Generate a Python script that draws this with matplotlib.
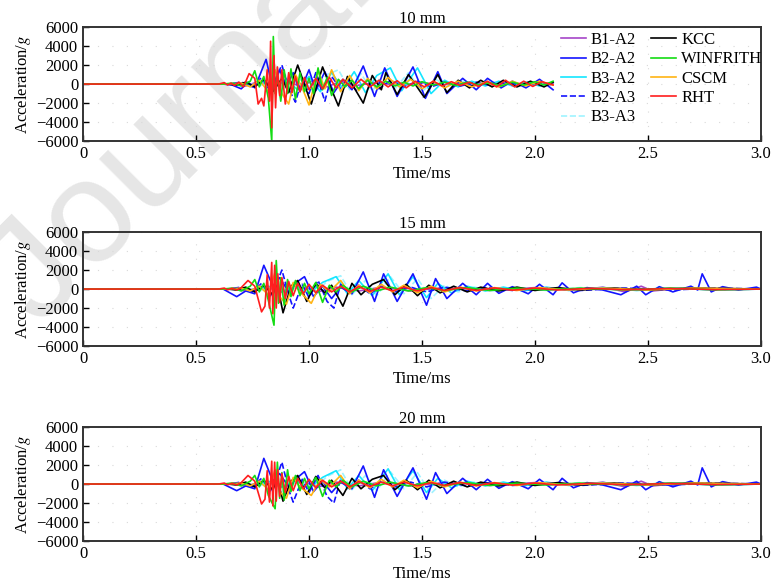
import numpy as np
import matplotlib
matplotlib.use("Agg")
import matplotlib.pyplot as plt

plt.rcParams['font.family'] = ['Liberation Serif', 'DejaVu Serif']
plt.rcParams['mathtext.fontset'] = 'stix'
plt.rcParams['font.size'] = 12

titles = ['10 mm', '15 mm', '20 mm']
labels = ['B1-A2', 'B2-A2', 'B3-A2', 'B2-A3', 'B3-A3', 'KCC', 'WINFRITH', 'CSCM', 'RHT']
xticks = [0, 0.5, 1.0, 1.5, 2.0, 2.5, 3.0]
xtick_labels = ['0', '0.5', '1.0', '1.5', '2.0', '2.5', '3.0']
yticks = [-6000, -4000, -2000, 0, 2000, 4000, 6000]

# ---- 10 mm : (time ms, acceleration g) ----
b1a2_10 = [(0, 0), (0.66, 0), (0.72, -200), (0.78, 300), (0.84, -400), (0.90, 500), (0.96, -300),
           (1.02, 400), (1.08, -300), (1.14, 300), (1.20, -200), (1.30, 200), (1.40, -200), (1.50, 150),
           (1.60, -150), (1.70, 150), (1.80, -100), (1.90, 100), (2.00, -100), (2.08, 100)]
b2a2_10 = [(0, 0), (0.62, 0), (0.66, -100), (0.70, -500), (0.73, 200), (0.76, -400), (0.81, 2600),
           (0.84, -500), (0.87, 1500), (0.90, -200), (0.93, 1200), (0.96, -800), (1.00, 1500),
           (1.03, -700), (1.07, 1300), (1.11, -900), (1.15, 500), (1.19, -600), (1.24, 1900),
           (1.29, -1300), (1.335, 1700), (1.39, -1300), (1.46, 1800), (1.515, -1500), (1.57, 1300),
           (1.61, -1000), (1.68, 600), (1.74, -600), (1.79, 600), (1.85, -400), (1.90, 300),
           (1.96, -400), (2.02, 500), (2.08, -600)]
b3a2_10 = [(0, 0), (0.64, 0), (0.70, 100), (0.75, -200), (0.80, 300), (0.85, -300), (0.90, 400),
           (0.95, -600), (1.00, 800), (1.05, -800), (1.10, 1200), (1.15, -500), (1.20, 1300),
           (1.25, -900), (1.30, 900), (1.36, 1700), (1.41, -700), (1.48, 1700), (1.54, -1000),
           (1.60, 400), (1.66, -300), (1.72, 300), (1.78, -200), (1.84, 300), (1.90, -200),
           (1.96, 200), (2.02, -200), (2.08, 200)]
b2a3_10 = [(0, 0), (0.64, 0), (0.70, 200), (0.75, -300), (0.79, 700), (0.83, -800), (0.86, 1000),
           (0.88, 2000), (0.91, -500), (0.94, -1900), (0.97, 600), (1.00, -1000), (1.03, 1200),
           (1.07, -1800), (1.10, 800), (1.14, -500), (1.17, 500), (1.21, -700), (1.26, 500),
           (1.31, -500), (1.36, 400), (1.42, -300), (1.48, 300), (1.54, -300), (1.60, 200),
           (1.67, -200), (1.74, 200), (1.81, -200), (1.88, 150), (1.95, -150), (2.02, 150), (2.08, -100)]
b3a3_10 = [(0, 0), (0.66, 0), (0.72, 100), (0.78, -200), (0.84, 300), (0.90, -400), (0.96, 500),
           (1.02, -600), (1.08, 1000), (1.13, 1500), (1.18, -600), (1.23, 1100), (1.28, -800),
           (1.33, 1300), (1.38, -500), (1.44, 1200), (1.50, -800), (1.56, 500), (1.62, -300),
           (1.68, 300), (1.75, -200), (1.82, 200), (1.90, -150), (1.98, 150), (2.08, -100)]
kcc_10 = [(0, 0), (0.64, 0), (0.68, -100), (0.72, 200), (0.76, -300), (0.80, 500), (0.84, -800),
          (0.88, 600), (0.91, -900), (0.95, 2000), (1.01, -2100), (1.06, 1800), (1.10, -600),
          (1.13, -2300), (1.17, 800), (1.20, -400), (1.24, -2000), (1.28, 900), (1.32, -600),
          (1.34, 1200), (1.39, -1100), (1.44, 1000), (1.51, -1400), (1.57, 1000), (1.61, -900),
          (1.66, 400), (1.71, -400), (1.76, 400), (1.81, -300), (1.86, 400), (1.92, -300),
          (1.98, 300), (2.04, -300), (2.08, 200)]
win_10 = [(0, 0), (0.62, 0), (0.66, 100), (0.70, -200), (0.74, 300), (0.76, 1400), (0.78, -300),
          (0.80, 800), (0.82, -1500), (0.835, -6000), (0.842, 5000), (0.85, -1000), (0.86, 800),
          (0.875, -1800), (0.89, 1500), (0.905, -1000), (0.92, 1600), (0.94, -1600), (0.96, 1200),
          (0.98, -800), (1.00, 600), (1.02, -1000), (1.04, 1700), (1.06, -600), (1.08, 700),
          (1.10, -1200), (1.13, 500), (1.16, -300), (1.19, 400), (1.22, -500), (1.26, 400),
          (1.30, -300), (1.34, 300), (1.38, -200), (1.42, 200), (1.46, -200), (1.50, 250),
          (1.55, -100), (1.60, 200), (1.65, -150), (1.70, 200), (1.75, -100), (1.80, 150),
          (1.85, -200), (1.90, 200), (1.95, -100), (2.00, 250), (2.04, -100), (2.08, 300)]
cscm_10 = [(0, 0), (0.64, 0), (0.70, 100), (0.74, -300), (0.78, 400), (0.82, -800), (0.85, 1500),
           (0.88, -1000), (0.91, -2100), (0.94, 1000), (0.97, -400), (1.00, -2200), (1.04, 1400),
           (1.07, -500), (1.10, 1500), (1.14, -800), (1.18, 900), (1.22, -700), (1.26, 600),
           (1.30, -500), (1.35, 700), (1.40, -300), (1.45, 500), (1.50, -500), (1.55, 300),
           (1.60, -400), (1.66, 300), (1.72, -300), (1.78, 200), (1.84, -300), (1.90, 300),
           (1.96, -200), (2.02, 300), (2.08, -100)]
rht_10 = [(0, 0), (0.60, 0), (0.625, 150), (0.64, -100), (0.655, 100), (0.67, -150), (0.69, 200),
          (0.71, -300), (0.735, 1100), (0.76, 600), (0.775, -2100), (0.79, -1500), (0.80, -2300),
          (0.815, 1500), (0.825, -1800), (0.83, 4500), (0.835, -4600), (0.845, 3000), (0.852, -2500),
          (0.86, 1800), (0.87, -1200), (0.88, 1500), (0.895, -2100), (0.91, 1200), (0.925, -900),
          (0.94, 800), (0.96, -800), (0.98, 700), (1.00, -600), (1.03, 600), (1.06, -500),
          (1.09, 700), (1.12, -400), (1.15, 500), (1.19, -400), (1.23, 500), (1.27, -300),
          (1.31, 400), (1.35, -300), (1.39, 350), (1.43, -400), (1.47, 300), (1.51, -300),
          (1.55, 300), (1.59, -200), (1.63, 250), (1.67, -150), (1.71, 200), (1.75, -250),
          (1.79, 300), (1.83, -300), (1.87, 400), (1.91, -300), (1.95, 300), (1.99, -250),
          (2.03, 250), (2.08, -100)]

# ---- 15 mm ----
b1a2_15 = [(0, 0), (0.66, 0), (0.72, -200), (0.80, 300), (0.88, -300), (0.96, 300), (1.04, -300),
           (1.12, 200), (1.22, -200), (1.32, 200), (1.45, -200), (1.60, 150), (1.80, -150),
           (2.00, 150), (2.20, -100), (2.30, 200), (2.40, -300), (2.47, 300), (2.52, -200),
           (2.65, 100), (2.80, -100), (3.00, 0)]
b2a2_15 = [(0, 0), (0.62, 0), (0.68, -800), (0.72, -200), (0.76, -500), (0.80, 2500), (0.84, 300),
           (0.87, 1200), (0.91, -300), (0.95, 800), (0.98, 1300), (1.02, -800), (1.06, 300),
           (1.10, -1000), (1.14, 200), (1.19, -500), (1.24, 1800), (1.29, -1300), (1.33, 1600),
           (1.39, -1300), (1.46, 1600), (1.52, -1700), (1.56, 1100), (1.61, -1000), (1.68, 600),
           (1.74, -600), (1.79, 600), (1.84, -450), (1.90, 250), (1.97, -500), (2.02, 500),
           (2.08, -600), (2.12, 650), (2.17, -400), (2.23, 150), (2.30, -100), (2.38, -600),
           (2.45, 300), (2.49, -600), (2.55, 250), (2.61, -300), (2.69, 300), (2.72, -100),
           (2.74, 1600), (2.78, -300), (2.83, 250), (2.90, -100), (2.98, 200), (3.00, 0)]
b3a2_15 = [(0, 0), (0.64, 0), (0.70, 100), (0.76, -200), (0.82, 300), (0.88, -300), (0.94, 400),
           (1.00, -500), (1.06, 700), (1.12, 1300), (1.17, -500), (1.22, 900), (1.28, -700),
           (1.35, 1600), (1.40, -600), (1.46, 1300), (1.52, -900), (1.57, 600), (1.63, -400),
           (1.70, 300), (1.78, -200), (1.86, 200), (1.95, -200), (2.05, 200), (2.15, -150),
           (2.30, 150), (2.45, -150), (2.60, 100), (2.80, -100), (3.00, 0)]
b2a3_15 = [(0, 0), (0.64, 0), (0.70, 200), (0.75, -300), (0.79, 600), (0.83, -700), (0.86, 800),
           (0.88, 2000), (0.91, -600), (0.93, -2000), (0.97, 500), (1.00, -900), (1.04, 900),
           (1.08, -1300), (1.11, -2000), (1.14, 500), (1.18, -500), (1.22, 400), (1.27, -500),
           (1.32, 300), (1.38, -300), (1.45, 200), (1.52, -300), (1.60, 200), (1.70, -200),
           (1.80, 150), (1.90, -150), (2.05, 100), (2.20, -150), (2.40, 100), (2.60, -100),
           (2.80, 100), (3.00, 0)]
b3a3_15 = [(0, 0), (0.66, 0), (0.72, 100), (0.78, -200), (0.84, 300), (0.90, -300), (0.96, 400),
           (1.02, -500), (1.08, 800), (1.14, 1400), (1.19, -600), (1.25, 900), (1.30, -700),
           (1.36, 1300), (1.42, -500), (1.48, 1100), (1.54, -1000), (1.60, 400), (1.66, -300),
           (1.73, 200), (1.82, -200), (1.92, 150), (2.05, -150), (2.20, 150), (2.40, -100),
           (2.60, 100), (2.80, -100), (3.00, 0)]
kcc_15 = [(0, 0), (0.64, 0), (0.68, -100), (0.72, 200), (0.76, -300), (0.80, 400), (0.84, -600),
          (0.86, 500), (0.885, -2500), (0.92, 300), (0.95, 900), (0.99, -1300), (1.03, 600),
          (1.07, -400), (1.10, 400), (1.15, -1800), (1.19, 600), (1.23, -600), (1.28, 500),
          (1.33, 1000), (1.38, -600), (1.43, 500), (1.48, -700), (1.53, 400), (1.58, -400),
          (1.64, 300), (1.70, -300), (1.76, 200), (1.84, -200), (1.92, 200), (2.00, -150),
          (2.10, 150), (2.20, -100), (2.35, 100), (2.50, -100), (2.70, 100), (3.00, 0)]
win_15 = [(0, 0), (0.62, 0), (0.66, 100), (0.70, -200), (0.74, 300), (0.76, 1000), (0.78, -300),
          (0.80, 600), (0.82, -1200), (0.845, -3800), (0.855, 3000), (0.865, -1500), (0.875, 1200),
          (0.89, -1700), (0.905, 1000), (0.92, -800), (0.94, 900), (0.96, -700), (0.98, 600),
          (1.00, -500), (1.03, 700), (1.06, -1400), (1.09, 400), (1.12, -300), (1.15, 400),
          (1.19, -300), (1.24, 300), (1.30, -200), (1.36, 200), (1.44, -200), (1.52, 150),
          (1.60, -150), (1.70, 150), (1.80, -150), (1.92, 100), (2.05, -100), (2.20, 100),
          (2.40, -100), (2.60, 100), (2.80, -80), (3.00, 0)]
cscm_15 = [(0, 0), (0.64, 0), (0.70, 100), (0.74, -200), (0.78, 300), (0.82, -600), (0.85, 1800),
           (0.87, -800), (0.90, -1600), (0.93, 700), (0.96, -300), (1.01, -1500), (1.05, 500),
           (1.09, -300), (1.14, 900), (1.18, -500), (1.22, 400), (1.27, -400), (1.32, 500),
           (1.37, -300), (1.42, 400), (1.48, -400), (1.54, 300), (1.60, -300), (1.67, 200),
           (1.74, -200), (1.82, 150), (1.92, -150), (2.02, 150), (2.15, -100), (2.30, 100),
           (2.50, -100), (2.70, 100), (3.00, 0)]
rht_15 = [(0, 0), (0.60, 0), (0.625, 100), (0.64, -80), (0.66, 80), (0.68, -100), (0.70, 150),
          (0.73, 900), (0.76, 300), (0.79, -2400), (0.805, -1800), (0.815, 1500), (0.825, -2000),
          (0.835, 2800), (0.84, -2600), (0.848, 2500), (0.855, -2000), (0.862, 1600), (0.87, -1400),
          (0.88, 1200), (0.895, -1000), (0.91, 800), (0.93, -700), (0.95, 600), (0.975, -500),
          (1.00, 500), (1.03, -400), (1.06, 400), (1.10, -300), (1.14, 300), (1.18, -300),
          (1.22, 250), (1.27, -250), (1.32, 200), (1.37, -200), (1.42, 200), (1.48, -200),
          (1.54, 150), (1.60, -150), (1.67, 150), (1.74, -150), (1.82, 120), (1.90, -120),
          (2.00, 100), (2.10, -100), (2.25, 80), (2.40, -80), (2.60, 60), (2.80, -60), (3.00, 0)]

# ---- 20 mm ----
b1a2_20 = [(0, 0), (0.66, 0), (0.72, -200), (0.80, 300), (0.88, -300), (0.96, 300), (1.04, -300),
           (1.12, 200), (1.22, -200), (1.32, 200), (1.45, -200), (1.60, 150), (1.80, -150),
           (2.00, 150), (2.20, -100), (2.30, 200), (2.40, -300), (2.47, 300), (2.52, -200),
           (2.65, 100), (2.80, -100), (3.00, 0)]
b2a2_20 = [(0, 0), (0.62, 0), (0.68, -700), (0.72, -200), (0.76, -500), (0.80, 2700), (0.84, 300),
           (0.87, 1100), (0.91, -300), (0.95, 700), (0.98, 1300), (1.02, -800), (1.06, 300),
           (1.10, -900), (1.14, 200), (1.19, -500), (1.24, 1900), (1.29, -1400), (1.33, 1500),
           (1.39, -1300), (1.46, 1700), (1.52, -1600), (1.56, 1200), (1.61, -1000), (1.68, 600),
           (1.74, -600), (1.79, 500), (1.84, -450), (1.90, 250), (1.97, -500), (2.02, 500),
           (2.08, -600), (2.12, 600), (2.17, -400), (2.23, 150), (2.30, -100), (2.38, -600),
           (2.45, 300), (2.49, -600), (2.55, 250), (2.61, -300), (2.69, 300), (2.72, -100),
           (2.74, 1700), (2.78, -300), (2.83, 250), (2.90, -100), (2.98, 200), (3.00, 0)]
b3a2_20 = [(0, 0), (0.64, 0), (0.70, 100), (0.76, -200), (0.82, 300), (0.88, -300), (0.94, 400),
           (1.00, -500), (1.06, 700), (1.12, 1400), (1.17, -500), (1.22, 900), (1.28, -700),
           (1.35, 1600), (1.40, -600), (1.46, 1400), (1.52, -900), (1.57, 600), (1.63, -400),
           (1.70, 300), (1.78, -200), (1.86, 200), (1.95, -200), (2.05, 200), (2.15, -150),
           (2.30, 150), (2.45, -150), (2.60, 100), (2.80, -100), (3.00, 0)]
b2a3_20 = [(0, 0), (0.64, 0), (0.70, 200), (0.75, -300), (0.79, 600), (0.83, -700), (0.86, 900),
           (0.88, 2300), (0.91, -600), (0.93, -1900), (0.97, 500), (1.00, -900), (1.04, 900),
           (1.08, -1300), (1.11, -2000), (1.14, 500), (1.18, -500), (1.22, 400), (1.27, -500),
           (1.32, 300), (1.38, -300), (1.45, 200), (1.52, -300), (1.60, 200), (1.70, -200),
           (1.80, 150), (1.90, -150), (2.05, 100), (2.20, -150), (2.40, 100), (2.60, -100),
           (2.80, 100), (3.00, 0)]
b3a3_20 = [(0, 0), (0.66, 0), (0.72, 100), (0.78, -200), (0.84, 300), (0.90, -300), (0.96, 400),
           (1.02, -500), (1.08, 800), (1.14, 1500), (1.19, -600), (1.25, 900), (1.30, -700),
           (1.36, 1300), (1.42, -500), (1.48, 1200), (1.54, -1000), (1.60, 400), (1.66, -300),
           (1.73, 200), (1.82, -200), (1.92, 150), (2.05, -150), (2.20, 150), (2.40, -100),
           (2.60, 100), (2.80, -100), (3.00, 0)]
kcc_20 = [(0, 0), (0.64, 0), (0.68, -100), (0.72, 200), (0.76, -300), (0.80, 400), (0.84, -600),
          (0.86, 500), (0.885, -1800), (0.92, 300), (0.95, 900), (0.99, -1100), (1.03, 800),
          (1.07, -400), (1.10, 400), (1.15, -1200), (1.19, 600), (1.23, -500), (1.28, 500),
          (1.33, 900), (1.38, -600), (1.43, 400), (1.48, -600), (1.53, 400), (1.58, -400),
          (1.64, 300), (1.70, -300), (1.76, 200), (1.84, -200), (1.92, 200), (2.00, -150),
          (2.10, 150), (2.20, -100), (2.35, 100), (2.50, -100), (2.70, 100), (3.00, 0)]
win_20 = [(0, 0), (0.62, 0), (0.66, 100), (0.70, -200), (0.74, 300), (0.76, 900), (0.78, -300),
          (0.80, 600), (0.82, -1200), (0.85, -2600), (0.86, 2300), (0.87, -1500), (0.88, 1200),
          (0.89, -1700), (0.905, 1500), (0.92, -800), (0.94, 900), (0.96, -700), (0.98, 600),
          (1.00, -500), (1.03, 700), (1.06, -1300), (1.09, 400), (1.12, -300), (1.15, 400),
          (1.19, -300), (1.24, 300), (1.30, -200), (1.36, 200), (1.44, -200), (1.52, 150),
          (1.60, -150), (1.70, 150), (1.80, -150), (1.92, 100), (2.05, -100), (2.20, 100),
          (2.40, -100), (2.60, 100), (2.80, -80), (3.00, 0)]
cscm_20 = [(0, 0), (0.64, 0), (0.70, 100), (0.74, -200), (0.78, 300), (0.82, -600), (0.85, 1500),
           (0.87, -800), (0.90, -1500), (0.93, 700), (0.96, -300), (1.01, -1200), (1.05, 500),
           (1.09, -300), (1.14, 900), (1.18, -500), (1.22, 400), (1.27, -400), (1.32, 500),
           (1.37, -300), (1.42, 400), (1.48, -400), (1.54, 300), (1.60, -300), (1.67, 200),
           (1.74, -200), (1.82, 150), (1.92, -150), (2.02, 150), (2.15, -100), (2.30, 100),
           (2.50, -100), (2.70, 100), (3.00, 0)]
rht_20 = [(0, 0), (0.60, 0), (0.625, 100), (0.64, -80), (0.66, 80), (0.68, -100), (0.70, 150),
          (0.73, 900), (0.76, 300), (0.79, -2100), (0.805, -1600), (0.815, 1400), (0.825, -1900),
          (0.835, 2400), (0.84, -2300), (0.848, 2300), (0.855, -1800), (0.862, 1500), (0.87, -1300),
          (0.88, 1100), (0.895, -900), (0.91, 800), (0.93, -700), (0.95, 600), (0.975, -500),
          (1.00, 500), (1.03, -400), (1.06, 400), (1.10, -300), (1.14, 300), (1.18, -300),
          (1.22, 250), (1.27, -250), (1.32, 200), (1.37, -200), (1.42, 200), (1.48, -200),
          (1.54, 150), (1.60, -150), (1.67, 150), (1.74, -150), (1.82, 120), (1.90, -120),
          (2.00, 100), (2.10, -100), (2.25, 80), (2.40, -80), (2.60, 60), (2.80, -60), (3.00, 0)]

panels = [
    [b1a2_10, b2a2_10, b3a2_10, b2a3_10, b3a3_10, kcc_10, win_10, cscm_10, rht_10],
    [b1a2_15, b2a2_15, b3a2_15, b2a3_15, b3a3_15, kcc_15, win_15, cscm_15, rht_15],
    [b1a2_20, b2a2_20, b3a2_20, b2a3_20, b3a3_20, kcc_20, win_20, cscm_20, rht_20],
]

colors = ['#a646c8', '#1414ff', '#14e6ff', '#1414ff', '#9ff3ff', 'black', '#14dc14', '#ffb414', '#ff1e1e']
styles = ['-', '-', '-', '--', '--', '-', '-', '-', '-']
draw_order = [0, 4, 2, 3, 1, 5, 7, 6, 8]

fig = plt.figure(figsize=(7.71, 5.85), dpi=100)

# watermark
fig.text(0.05, 0.44, 'Journal', rotation=45, rotation_mode='anchor',
         ha='left', va='baseline', fontsize=105, color='#e6e6e6',
         family='Liberation Sans', zorder=-1)

tops = [0.9538, 0.6034, 0.2701]
h = 0.195
for k in range(3):
    ax = fig.add_axes([0.1077, tops[k] - h, 0.8793, h])
    ax.set_facecolor('none')
    handles = [None] * 9
    for i in draw_order:
        d = np.array(panels[k][i])
        ln, = ax.plot(d[:, 0], d[:, 1], styles[i], color=colors[i], lw=1.2, label=labels[i])
        handles[i] = ln
    ax.set_xlim(0, 3.0)
    ax.set_ylim(-6000, 6000)
    ax.set_xticks(xticks)
    ax.set_xticklabels(xtick_labels)
    ax.set_yticks(yticks)
    ax.tick_params(direction='in', length=4, width=1, top=False, right=False)
    ax.grid(True, color='#d9d9d9', linestyle=(0, (1, 12)), lw=0.8)
    for s in ax.spines.values():
        s.set_linewidth(1.4)
        s.set_color('#333333')
    ax.set_title(titles[k], fontsize=12, pad=3)
    ax.set_xlabel('Time/ms', labelpad=3)
    ax.set_ylabel('Acceleration/$g$', labelpad=2)
    if k == 0:
        ax.legend(handles=handles, ncol=2, frameon=False, loc='upper left',
                  bbox_to_anchor=(0.705, 0.955), borderaxespad=0, borderpad=0,
                  handlelength=1.5, handletextpad=0.3, columnspacing=0.9,
                  labelspacing=0.2, fontsize=12)

fig.savefig('out.png', dpi=100)
